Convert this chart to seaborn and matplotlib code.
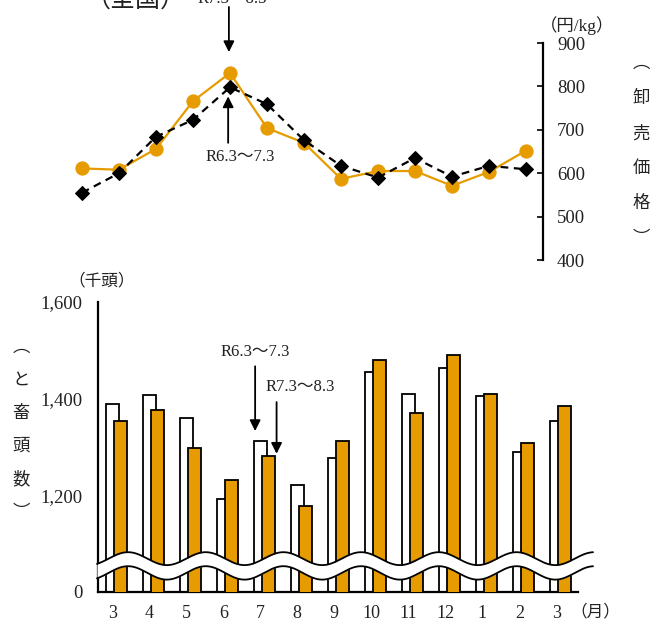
import numpy as np
import matplotlib
matplotlib.use("Agg")
import matplotlib.pyplot as plt
import seaborn as sns

# データ（月）
bulan = ["3", "4", "5", "6", "7", "8", "9", "10", "11", "12", "1", "2", "3"]
# 卸売価格（円/kg）
harga_r7 = [611, 608, 656, 766, 831, 704, 670, 587, 605, 605, 571, 603, 652]
harga_r6 = [555, 600, 684, 723, 798, 759, 676, 617, 590, 635, 592, 617, 609]
# と畜頭数（千頭）
ekor_r6 = [1390, 1408, 1359, 1193, 1312, 1222, 1277, 1456, 1410, 1464, 1405, 1290, 1353]
ekor_r7 = [1353, 1376, 1297, 1231, 1281, 1177, 1313, 1479, 1371, 1490, 1410, 1308, 1385]

ORANYE = "#E69B00"
TEKS = "#222222"
FONT = ["Liberation Serif", "Noto Sans CJK JP", "DejaVu Sans"]

sns.set_style("white")
plt.rcParams["font.family"] = FONT

W, H = 653, 621
fig = plt.figure(figsize=(W / 100, H / 100), dpi=100)


def fx(x):
    return x / W


def fy(y):
    return 1 - y / H


idx = np.arange(len(bulan))

# ---------------- grafik atas: harga ----------------
ax1 = fig.add_axes([fx(60), fy(260), (543 - 60) / W, (260 - 43) / H])
sns.lineplot(x=idx, y=harga_r6, ax=ax1, color="black", linestyle=(0, (3.5, 2.5)),
             linewidth=1.6, marker="D", markersize=7.5, markeredgecolor="black", zorder=3)
sns.lineplot(x=idx, y=harga_r7, ax=ax1, color=ORANYE, linewidth=1.6,
             marker="o", markersize=9.5, markeredgecolor=ORANYE, zorder=2)
ax1.set_xlim(-22 / 37, 461 / 37)
ax1.set_ylim(400, 900)
ax1.set_xticks([])
ax1.set_yticks([400, 500, 600, 700, 800, 900])
ax1.yaxis.tick_right()
for s in ["left", "top", "bottom"]:
    ax1.spines[s].set_visible(False)
ax1.spines["right"].set_linewidth(1.6)
ax1.spines["right"].set_color("black")
ax1.tick_params(axis="y", direction="in", length=4, width=1.4, labelsize=13.5,
                pad=10, labelcolor=TEKS)
ax1.set_xlabel("")
ax1.set_ylabel("")
ax1.set_facecolor("none")

# panah atas
ax1.annotate("", xy=(3.97, 879), xytext=(3.97, 983), annotation_clip=False,
             arrowprops=dict(arrowstyle="-|>", color="black", lw=1.3,
                             mutation_scale=16, shrinkA=0, shrinkB=0))
ax1.text(4.05, 1001, "R7.3～8.3", ha="center", va="center", fontsize=12, color=TEKS)
ax1.annotate("", xy=(3.95, 777), xytext=(3.95, 670),
             arrowprops=dict(arrowstyle="-|>", color="black", lw=1.3,
                             mutation_scale=16, shrinkA=0, shrinkB=0))
ax1.text(4.27, 637, "R6.3～7.3", ha="center", va="center", fontsize=12, color=TEKS)

# ---------------- grafik bawah:頭数 ----------------
ax2 = fig.add_axes([fx(98), fy(592), (578 - 98) / W, (592 - 302) / H])
sns.barplot(x=idx.astype(float), y=ekor_r6, ax=ax2, native_scale=True, width=0.36,
            color="white", saturation=1, edgecolor="black", linewidth=1.3,
            errorbar=None, zorder=2)
sns.barplot(x=idx + 0.225, y=ekor_r7, ax=ax2, native_scale=True, width=0.36,
            color=ORANYE, saturation=1, edgecolor="black", linewidth=1.3,
            errorbar=None, zorder=3)
ax2.set_xlim((98 - 112.3) / 37, (578 - 112.3) / 37)
ax2.set_ylim(1000, 1600)
ax2.set_yticks([1000, 1200, 1400, 1600], ["0", "1,200", "1,400", "1,600"])
ax2.set_xticks(idx, bulan)
for s in ["right", "top"]:
    ax2.spines[s].set_visible(False)
for s in ["left", "bottom"]:
    ax2.spines[s].set_linewidth(1.6)
    ax2.spines[s].set_color("black")
ax2.tick_params(axis="y", direction="in", length=5, width=1.4, labelsize=13.5,
                pad=11, labelcolor=TEKS)
ax2.tick_params(axis="x", length=0, labelsize=13, pad=9, labelcolor=TEKS)
ax2.set_xlabel("")
ax2.set_ylabel("")
ax2.set_facecolor("none")

# tanda putus (gelombang)
xg = np.linspace((97 - 112.3) / 37, (593 - 112.3) / 37, 400)
per = 77.7 / 37
puncak = (128 - 112.3) / 37
gel = np.cos(2 * np.pi * (xg - puncak) / per)
atas = 1069 + 13.4 * gel
bawah = 1039.5 + 13.9 * gel
ax2.fill_between(xg, bawah, atas, color="white", zorder=6, clip_on=False, linewidth=0)
ax2.plot(xg, atas, color="black", lw=1.3, zorder=7, clip_on=False)
ax2.plot(xg, bawah, color="black", lw=1.3, zorder=7, clip_on=False)

# panah bawah
ax2.annotate("", xy=(3.86, 1333), xytext=(3.86, 1467),
             arrowprops=dict(arrowstyle="-|>", color="black", lw=1.3,
                             mutation_scale=16, shrinkA=0, shrinkB=0))
ax2.text(3.86, 1496, "R6.3～7.3", ha="center", va="center", fontsize=12, color=TEKS)
ax2.annotate("", xy=(4.44, 1286), xytext=(4.44, 1393),
             arrowprops=dict(arrowstyle="-|>", color="black", lw=1.3,
                             mutation_scale=16, shrinkA=0, shrinkB=0))
ax2.text(5.07, 1425, "R7.3～8.3", ha="center", va="center", fontsize=12, color=TEKS)

# ---------------- teks label ----------------
fig.text(fx(86), fy(12), "（全国）", ha="left", va="bottom", fontsize=18, color=TEKS)
fig.text(fx(577), fy(26), "（円/kg）", ha="center", va="center", fontsize=12.5, color=TEKS)
fig.text(fx(102), fy(281), "（千頭）", ha="center", va="center", fontsize=12, color=TEKS)
fig.text(fx(595), fy(612), "（月）", ha="center", va="center", fontsize=12, color=TEKS)

label_kanan = ["︵", "卸", "売", "価", "格", "︶"]
for k, ch in enumerate(label_kanan):
    fig.text(fx(641), fy(64 + k * 35), ch, ha="center", va="center", fontsize=12.5, color=TEKS)

label_kiri = ["︵", "と", "畜", "頭", "数", "︶"]
for k, ch in enumerate(label_kiri):
    fig.text(fx(21), fy(348 + k * 33), ch, ha="center", va="center", fontsize=12.5, color=TEKS)

fig.savefig("out.png", dpi=100)
